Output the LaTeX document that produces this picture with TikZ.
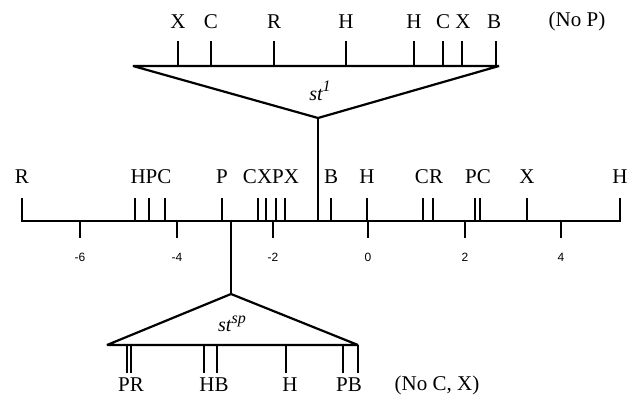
\documentclass[tikz,border=0pt]{standalone}
\usepackage{fontspec}
\setmainfont{Liberation Serif}
\newfontfamily\numfont{Liberation Sans}
\newcommand\stsupr[1]{\raisebox{0.42em}{\fontsize{16}{16}\selectfont #1}}
\begin{document}
\begin{tikzpicture}[x=1pt,y=-1pt,
  lbl/.style={font=\fontsize{21}{21}\selectfont, inner sep=0pt},
  num/.style={font=\numfont\fontsize{12}{12}\selectfont, inner sep=0pt},
  stl/.style={font=\fontsize{20}{20}\selectfont\itshape, inner sep=0pt},
  axisline/.style={line width=1.6pt, line join=miter},
  tickline/.style={line width=1.1pt},
  tri/.style={line width=2.2pt, line join=bevel},
  conn/.style={line width=1.1pt},
]
\useasboundingbox (0,0) rectangle (642,396);

% ---- main axis ----
\coordinate (axL) at (22,221);
\coordinate (axR) at (620,221);
\draw[axisline] (22,198) -- (axL) -- (axR) -- (620,198);
\foreach \x in {135,149,165,222,258,266,276,285,331,367,423,433,475,480,527}
  \draw[tickline] (\x,221) -- (\x,198);
\foreach \x/\v [count=\i] in {80/-6,177/-4,273/-2,368/0,465/2,561/4}{
  \draw[tickline] (\x,221) -- (\x,238);
  \node[num] (n\i) at (\x,257) {\v};
}
\node[lbl] (mR)   at (22,177)  {R};
\node[lbl] (mHPC) at (151,177) {HPC};
\node[lbl] (mP)   at (222,177) {P};
\node[lbl] (mCXPX) at (271,177) {CXPX};
\node[lbl] (mB)   at (331,177) {B};
\node[lbl] (mH)   at (367,177) {H};
\node[lbl] (mCR)  at (429,177) {CR};
\node[lbl] (mPC)  at (478,177) {PC};
\node[lbl] (mX)   at (527,177) {X};
\node[lbl] (mH2)  at (620,177) {H};

% ---- top triangle st^1 ----
\coordinate (tL) at (133,66);
\coordinate (tR) at (499,66);
\coordinate (tA) at (318,118);
\draw[tri] (tL) -- (tR) -- (tA) -- cycle;
\foreach \x in {178,211,274,346,414,443,462,496}
  \draw[tickline] (\x,66) -- (\x,41);
\node[lbl] (t1) at (178,22) {X};
\node[lbl] (t2) at (211,22) {C};
\node[lbl] (t3) at (274,22) {R};
\node[lbl] (t4) at (346,22) {H};
\node[lbl] (t5) at (414,22) {H};
\node[lbl] (t6) at (443,22) {C};
\node[lbl] (t7) at (463,22) {X};
\node[lbl] (t8) at (494,22) {B};
\node[lbl] (noP) at (577,21) {(No P)};
\node[stl] (st1) at (320,91) {st\stsupr{1}};
\coordinate (topfoot) at (318,221);
\draw[conn] (tA) -- (topfoot);

% ---- bottom triangle st^sp ----
\coordinate (bL) at (107,345);
\coordinate (bR) at (358,345);
\coordinate (bA) at (231,294);
\draw[tri] (bL) -- (bR) -- (bA) -- cycle;
\foreach \x in {127,131,204,217,286,343,358}
  \draw[tickline] (\x,345) -- (\x,373);
\node[lbl] (bPR) at (131,385) {PR};
\node[lbl] (bHB) at (214,385) {HB};
\node[lbl] (bH)  at (290,385) {H};
\node[lbl] (bPB) at (349,385) {PB};
\node[lbl] (noCX) at (437,385) {(No C, X)};
\node[stl] (stsp) at (232,324) {st\stsupr{sp}};
\coordinate (botfoot) at (231,221);
\draw[conn] (botfoot) -- (bA);
\end{tikzpicture}
\end{document}
